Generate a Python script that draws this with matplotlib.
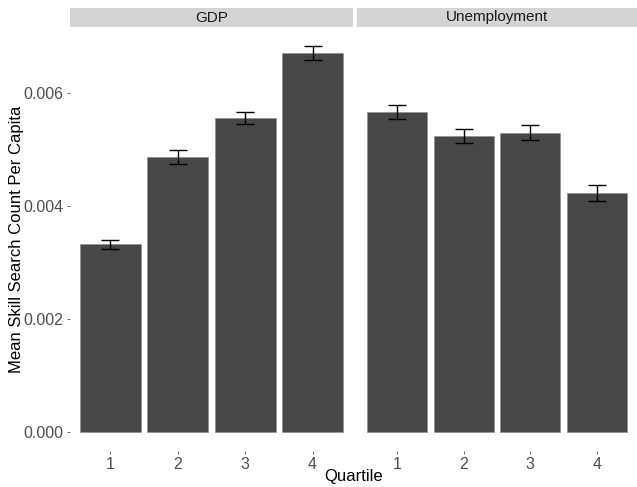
#!/usr/bin/env python3
"""Mittlere Skill-Suchanzahl pro Kopf nach Quartil (GDP / Unemployment)."""

import matplotlib
matplotlib.use("Agg")
import matplotlib.pyplot as plt
import numpy as np

plt.rcParams["font.family"] = ["Liberation Sans", "DejaVu Sans"]

QUARTILES = ["1", "2", "3", "4"]
PANELS = ["GDP", "Unemployment"]
MEANS = {
    "GDP": [0.00332, 0.00487, 0.00556, 0.00671],
    "Unemployment": [0.00567, 0.00524, 0.00530, 0.00423],
}
ERRORS = {
    "GDP": [0.00008, 0.00013, 0.00011, 0.00012],
    "Unemployment": [0.00012, 0.00013, 0.00013, 0.00014],
}

W, H = 637, 487
BAR_COLOR = "#474747"
STRIP_COLOR = "#D4D4D4"
TEXT_COLOR = "#4D4D4D"

fig = plt.figure(figsize=(W / 100, H / 100), dpi=100)

# Panel-Positionen in Pixeln: (links, rechts)
panel_px = [(70, 353), (357, 637)]
top_px, bottom_px = 27, 451
strip_top = 8

ymax = max(m + e for p in PANELS for m, e in zip(MEANS[p], ERRORS[p]))
ylim = (-0.05 * ymax, 1.05 * ymax)
x = np.arange(1, len(QUARTILES) + 1)

for i, (panel, (l, r)) in enumerate(zip(PANELS, panel_px)):
    ax = fig.add_axes([l / W, (H - bottom_px) / H, (r - l) / W, (bottom_px - top_px) / H])
    ax.bar(x, MEANS[panel], width=0.9, color=BAR_COLOR, edgecolor="#8a8a8a", linewidth=0.4)
    ax.errorbar(x, MEANS[panel], yerr=ERRORS[panel], fmt="none", ecolor="black",
                elinewidth=1.0, capsize=6.5, capthick=1.0)
    ax.set_xlim(0.4, 4.6)
    ax.set_ylim(*ylim)
    ax.set_xticks(x)
    ax.set_xticklabels(QUARTILES)
    for s in ax.spines.values():
        s.set_visible(False)
    ax.tick_params(axis="both", length=2.5, width=0.5, color="#333333",
                   labelsize=11.5, labelcolor=TEXT_COLOR, pad=2)
    if i == 0:
        ax.set_yticks([0, 0.002, 0.004, 0.006])
        ax.set_yticklabels(["0.000", "0.002", "0.004", "0.006"])
    else:
        ax.set_yticks([])

    # Facetten-Streifen
    sax = fig.add_axes([l / W, (H - top_px) / H, (r - l) / W, (top_px - strip_top) / H])
    sax.set_facecolor(STRIP_COLOR)
    sax.set_xticks([])
    sax.set_yticks([])
    for s in sax.spines.values():
        s.set_visible(False)
    sax.text(0.5, 0.5, panel, ha="center", va="center", fontsize=11,
             color="#1A1A1A", transform=sax.transAxes)

fig.text((panel_px[0][0] + panel_px[1][1]) / 2 / W, 1 - 477 / H, "Quartile",
         ha="center", va="center", fontsize=12)
fig.text(17 / W, 1 - (top_px + bottom_px) / 2 / H, "Mean Skill Search Count Per Capita",
         ha="center", va="center", rotation=90, fontsize=12)

fig.savefig("out.png", dpi=100)
